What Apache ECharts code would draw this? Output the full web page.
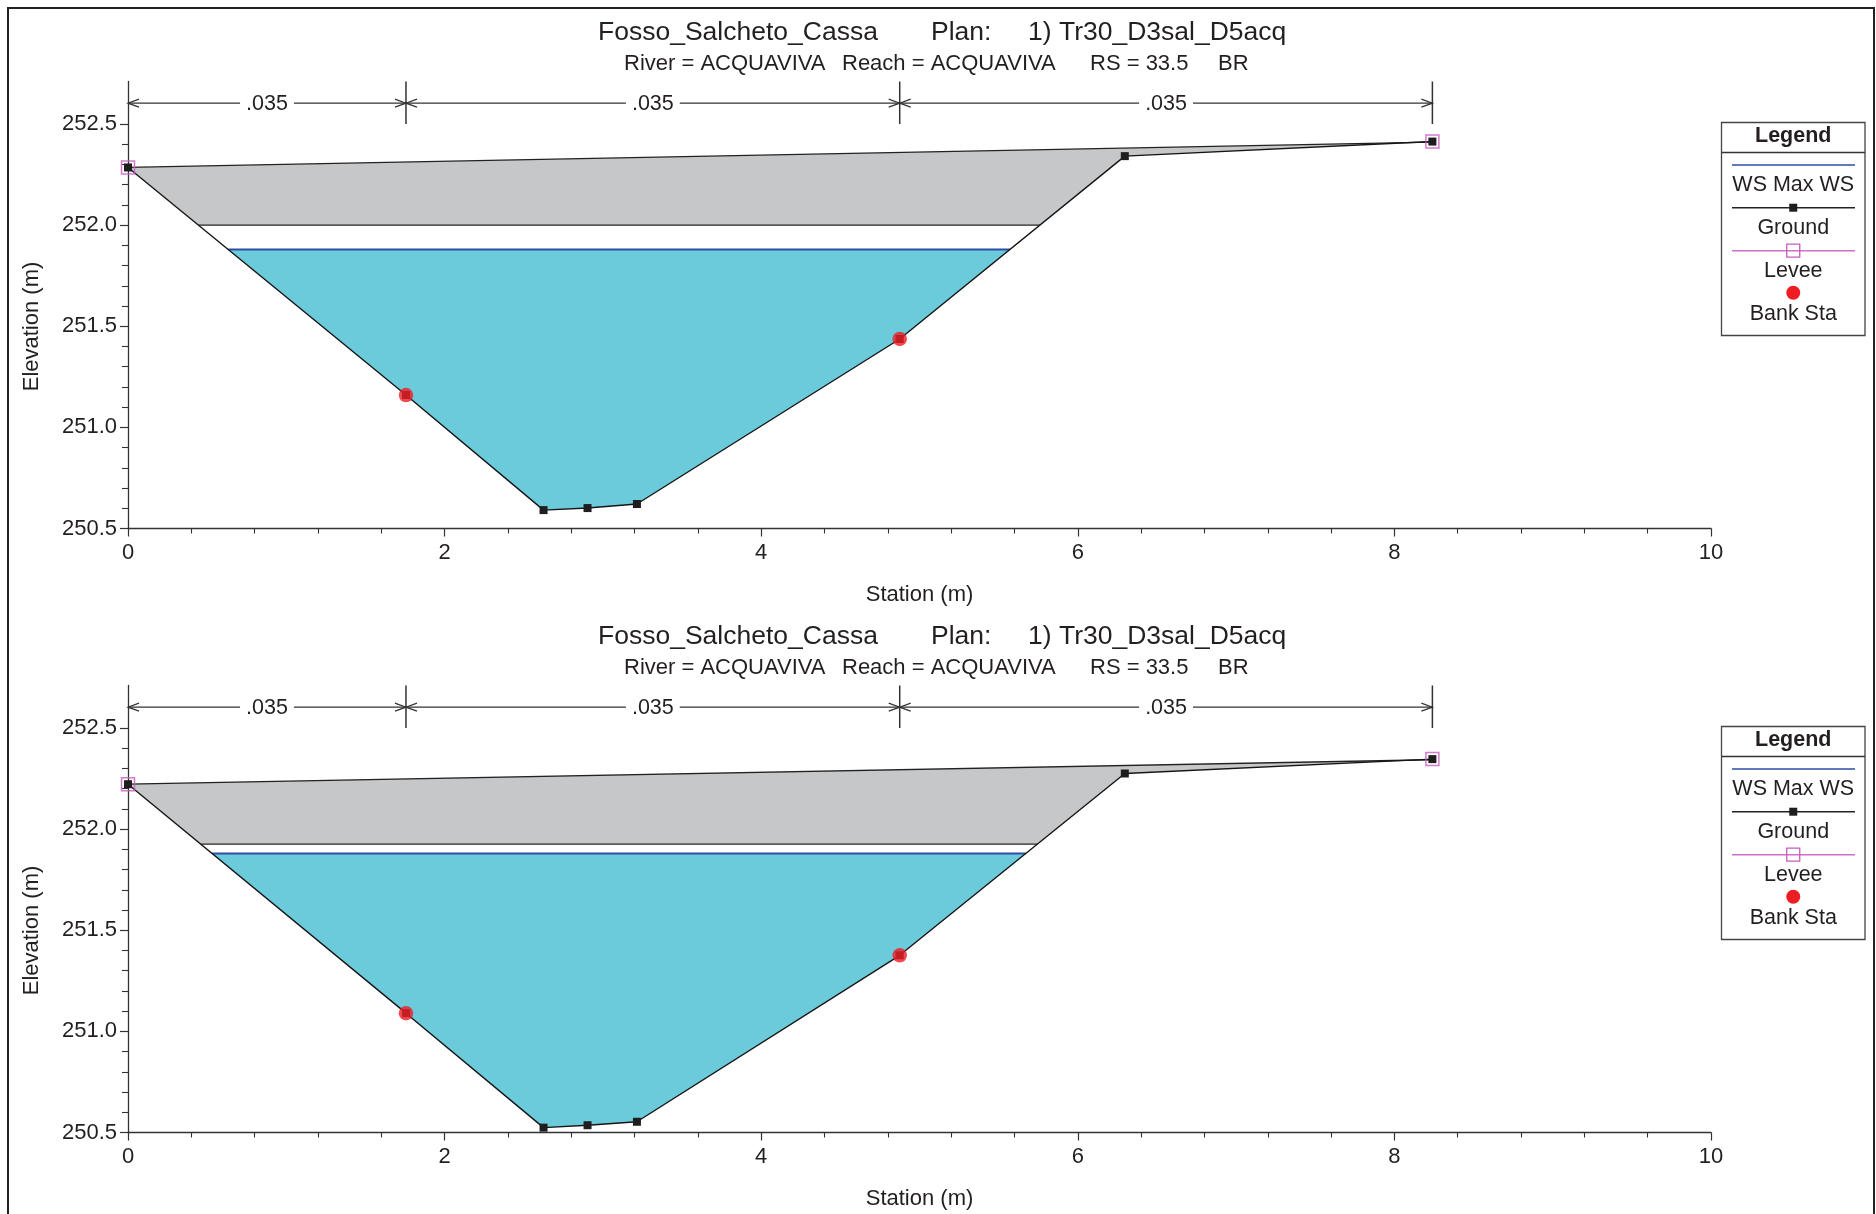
<!DOCTYPE html>
<html><head><meta charset="utf-8">
<script src="https://cdn.jsdelivr.net/npm/echarts@6/dist/echarts.min.js"></script>
<style>html,body{margin:0;padding:0;background:#fff}#c{width:1876px;height:1214px}</style>
</head><body><div id="c"></div>
<script>
// ---------- text ----------
const titleParts = ['Fosso_Salcheto_Cassa', 'Plan:', '1) Tr30_D3sal_D5acq'];
const subtitleParts = ['River = ACQUAVIVA', 'Reach = ACQUAVIVA', 'RS = 33.5', 'BR'];
const legendNames = ['WS Max WS', 'Ground', 'Levee', 'Bank Sta'];
const xName = 'Station (m)';
const yName = 'Elevation (m)';

// ---------- axes ----------
const xTickValues = [0, 2, 4, 6, 8, 10];
const yTickValues = [250.5, 251.0, 251.5, 252.0, 252.5];
const yMinorValues = [250.6, 250.7, 250.8, 250.9, 251.1, 251.2, 251.3, 251.4, 251.6, 251.7, 251.8, 251.9, 252.1, 252.2, 252.3, 252.4];
const yAxisMax = 252.71;

// ---------- Manning's n ----------
const nStations = [0, 1.756, 4.875, 8.24];
const nValues = ['.035', '.035', '.035'];
const nLineEl = 252.603;

// ---------- upper section ----------
const groundStaUp = [0, 1.756, 2.625, 2.903, 3.215, 4.875, 6.297, 8.24];
const groundElUp  = [252.285, 251.16, 250.591, 250.601, 250.621, 251.437, 252.341, 252.413];
const bankStaUp = [1.756, 4.875];
const bankElUp  = [251.16, 251.437];
const leveeStaUp = [0, 8.24];
const leveeElUp  = [252.285, 252.413];
const deckStaUp  = [0, 8.24];
const deckHighUp = [252.285, 252.41];
const lowChordUp = 252.0;
const wsUp = 251.879;

// ---------- lower section ----------
const groundStaDn = [0, 1.756, 2.625, 2.903, 3.215, 4.875, 6.297, 8.24];
const groundElDn  = [252.222, 251.09, 250.524, 250.536, 250.553, 251.376, 252.275, 252.346];
const bankStaDn = [1.756, 4.875];
const bankElDn  = [251.09, 251.376];
const leveeStaDn = [0, 8.24];
const leveeElDn  = [252.222, 252.346];
const deckStaDn  = [0, 8.24];
const deckHighDn = [252.222, 252.343];
const lowChordDn = 251.926;
const wsDn = 251.879;

// ---------- build ----------
const FONT = '"Liberation Sans", Arial, Helvetica, sans-serif';
const TXT = '#231f20';
const AX = '#333333';
const sections = [
  {sta: groundStaUp, el: groundElUp, bankSta: bankStaUp, bankEl: bankElUp, leveeSta: leveeStaUp, leveeEl: leveeElUp,
   deckSta: deckStaUp, deckHigh: deckHighUp, lowChord: lowChordUp, ws: wsUp},
  {sta: groundStaDn, el: groundElDn, bankSta: bankStaDn, bankEl: bankElDn, leveeSta: leveeStaDn, leveeEl: leveeElDn,
   deckSta: deckStaDn, deckHigh: deckHighDn, lowChord: lowChordDn, ws: wsDn}
];
const zip = (a, b) => a.map((v, i) => [v, b[i]]);

function crossings(sta, el, level) {
  const xs = [];
  for (let i = 1; i < sta.length; i++) {
    const a = el[i - 1] - level, b = el[i] - level;
    if ((a > 0 && b <= 0) || (a <= 0 && b > 0)) {
      const t = a / (a - b);
      xs.push(sta[i - 1] + t * (sta[i] - sta[i - 1]));
    }
  }
  return xs;
}
function wetPoly(s) {
  const xs = crossings(s.sta, s.el, s.ws);
  const x0 = xs[0], x1 = xs[xs.length - 1];
  const pts = [[x0, s.ws]];
  for (let i = 0; i < s.sta.length; i++) if (s.sta[i] > x0 && s.sta[i] < x1) pts.push([s.sta[i], s.el[i]]);
  pts.push([x1, s.ws]);
  return pts;
}
function deckPoly(s) {
  const top = zip(s.deckSta, s.deckHigh);
  const bottom = [];
  for (let i = 0; i < s.sta.length; i++) {
    if (i > 0) {
      const a = s.el[i - 1] - s.lowChord, b = s.el[i] - s.lowChord;
      if (a * b < 0) {
        const t = a / (a - b);
        bottom.push([s.sta[i - 1] + t * (s.sta[i] - s.sta[i - 1]), s.lowChord]);
      }
    }
    bottom.push([s.sta[i], Math.max(s.el[i], s.lowChord)]);
  }
  return top.concat(bottom.reverse());
}
function polySeries(points, g, fill, z) {
  return {
    type: 'custom', xAxisIndex: g, yAxisIndex: g * 2, z: z, silent: true, animation: false,
    data: points,
    renderItem: (params, api) => {
      if (params.dataIndex !== 0) return { type: 'group', children: [] };
      return { type: 'polygon', shape: { points: points.map(p => api.coord(p)) }, style: { fill: fill } };
    }
  };
}
function lineSeries(data, g, color, width, z) {
  return { type: 'line', xAxisIndex: g, yAxisIndex: g * 2, data: data, symbol: 'none', z: z, silent: true,
    lineStyle: { color: color, width: width }, animation: false };
}
function manningSeries(g) {
  const segs = nStations.slice(0, -1).map((s, i) => [s, nStations[i + 1], nLineEl]);
  return {
    type: 'custom', xAxisIndex: g, yAxisIndex: g * 2, z: 4, silent: true, animation: false,
    data: segs, encode: { x: [0, 1], y: 2 },
    renderItem: (params, api) => {
      const pa = api.coord([api.value(0), api.value(2)]);
      const pb = api.coord([api.value(1), api.value(2)]);
      const top = api.coord([api.value(1), yAxisMax])[1];
      const bot = api.coord([api.value(1), yTickValues[yTickValues.length - 1]])[1];
      const ls = { stroke: AX, lineWidth: 1.2, fill: null };
      return { type: 'group', children: [
        { type: 'line', shape: { x1: pa[0], y1: pa[1], x2: pb[0], y2: pb[1] }, style: ls },
        { type: 'polyline', shape: { points: [[pa[0] + 11, pa[1] - 4], [pa[0], pa[1]], [pa[0] + 11, pa[1] + 4]] }, style: ls },
        { type: 'polyline', shape: { points: [[pb[0] - 11, pb[1] - 4], [pb[0], pb[1]], [pb[0] - 11, pb[1] + 4]] }, style: ls },
        { type: 'line', shape: { x1: pb[0], y1: top, x2: pb[0], y2: bot }, style: { stroke: AX, lineWidth: 1.5 } },
        { type: 'text', x: (pa[0] + pb[0]) / 2, y: pa[1] + 1, z2: 10,
          style: { text: nValues[params.dataIndex], font: '21.5px ' + FONT, fill: TXT, align: 'center', verticalAlign: 'middle',
                   backgroundColor: '#fff', padding: [0, 6] } }
      ]};
    }
  };
}

const GRID_TOP = [81.5, 685.5];
const grids = [], xAxes = [], yAxes = [], series = [], graphics = [];

sections.forEach((s, g) => {
  grids.push({ left: 128, top: GRID_TOP[g], width: 1583, height: 447, outerBoundsMode: 'none', containLabel: false });
  xAxes.push({
    type: 'value', gridIndex: g, min: 0, max: 10, interval: 2,
    axisLine: { show: true, onZero: false, lineStyle: { color: AX, width: 1.3 } },
    axisTick: { show: true, length: 8, lineStyle: { color: AX, width: 1.2 } },
    minorTick: { show: true, splitNumber: 5, length: 5, lineStyle: { color: AX, width: 1.1 } },
    splitLine: { show: false }, minorSplitLine: { show: false },
    axisLabel: { fontSize: 22, fontFamily: FONT, color: TXT, margin: 13.5 },
    name: xName, nameLocation: 'middle', nameGap: 55,
    nameTextStyle: { fontSize: 22, fontFamily: FONT, color: TXT }
  });
  yAxes.push({
    type: 'value', gridIndex: g, min: 250.5, max: yAxisMax, interval: 0.5,
    axisLine: { show: true, onZero: false, lineStyle: { color: AX, width: 1.3 } },
    axisTick: { show: true, length: 8, customValues: yTickValues, lineStyle: { color: AX, width: 1.2 } },
    splitLine: { show: false },
    axisLabel: { fontSize: 22, fontFamily: FONT, color: TXT, margin: 11, customValues: yTickValues,
                 formatter: v => Number(v).toFixed(1) }
  });
  yAxes.push({
    type: 'value', gridIndex: g, min: 250.5, max: yAxisMax, interval: 0.5, position: 'left', offset: 0,
    axisLine: { show: false }, axisLabel: { show: false }, splitLine: { show: false },
    axisTick: { show: true, length: 6, customValues: yMinorValues, lineStyle: { color: AX, width: 1.1 } }
  });

  const wet = wetPoly(s);
  const lcX = crossings(s.sta, s.el, s.lowChord);
  series.push(polySeries(deckPoly(s), g, '#c6c7c9', 1));
  series.push(polySeries(wet, g, '#6ccbdb', 2));
  series.push(lineSeries([[lcX[0], s.lowChord], [lcX[lcX.length - 1], s.lowChord]], g, '#5a5a5a', 1.8, 3));
  series.push(lineSeries([wet[0], wet[wet.length - 1]], g, '#2c4ea8', 2, 3));
  series.push(lineSeries(zip(s.deckSta, s.deckHigh), g, '#222222', 1.3, 4));
  series.push(manningSeries(g));
  series.push({
    type: 'line', name: legendNames[1], xAxisIndex: g, yAxisIndex: g * 2, data: zip(s.sta, s.el), z: 5,
    symbol: 'rect', symbolSize: 8, showSymbol: true, showAllSymbol: true, silent: true, animation: false,
    itemStyle: { color: '#1e1e1e' }, lineStyle: { color: '#151515', width: 1.4 }
  });
  series.push({
    type: 'scatter', name: legendNames[2], xAxisIndex: g, yAxisIndex: g * 2, data: zip(s.leveeSta, s.leveeEl), z: 6,
    symbol: 'rect', symbolSize: 13, silent: true, animation: false,
    itemStyle: { color: 'rgba(0,0,0,0)', borderColor: '#c65bbd', borderWidth: 1.5 }
  });
  series.push({
    type: 'scatter', name: legendNames[3], xAxisIndex: g, yAxisIndex: g * 2, data: zip(s.bankSta, s.bankEl), z: 7,
    symbol: 'circle', symbolSize: 14.5, silent: true, animation: false,
    itemStyle: { color: '#ee1d24' }
  });

  const oy = GRID_TOP[g] - 80;
  // y axis name
  graphics.push({ type: 'text', x: 32, y: 325 + oy, rotation: Math.PI / 2,
    style: { text: yName, font: '22px ' + FONT, fill: TXT, align: 'center', verticalAlign: 'middle' } });
  // titles
  const tX = [598, 931, 1028], sX = [624, 842, 1090, 1218];
  titleParts.forEach((t, i) => graphics.push({ type: 'text', x: tX[i], y: 31.5 + oy,
    style: { text: t, font: '26.5px ' + FONT, fill: TXT, align: 'left', verticalAlign: 'middle' } }));
  subtitleParts.forEach((t, i) => graphics.push({ type: 'text', x: sX[i], y: 62 + oy,
    style: { text: t, font: '22px ' + FONT, fill: TXT, align: 'left', verticalAlign: 'middle' } }));

  // legend box
  const lx = 1721.5, lw = 143.5, cx = lx + lw / 2, ly = 122.5 + (GRID_TOP[g] - 81.5);
  graphics.push({ type: 'rect', shape: { x: lx, y: ly, width: lw, height: 213 }, style: { fill: '#fff', stroke: '#444', lineWidth: 1.3 } });
  graphics.push({ type: 'text', x: cx, y: ly + 14, style: { text: 'Legend', font: 'bold 21.5px ' + FONT, fill: TXT, align: 'center', verticalAlign: 'middle' } });
  graphics.push({ type: 'line', shape: { x1: lx, y1: ly + 30, x2: lx + lw, y2: ly + 30 }, style: { stroke: '#333', lineWidth: 1.3 } });
  const itemY = [42.5, 85.2, 128.2, 170.2];
  const labelY = [62.5, 105.5, 149, 191.5];
  graphics.push({ type: 'line', shape: { x1: lx + 10.5, y1: ly + itemY[0], x2: lx + lw - 10, y2: ly + itemY[0] }, style: { stroke: '#2c4ea8', lineWidth: 1.5 } });
  graphics.push({ type: 'line', shape: { x1: lx + 10.5, y1: ly + itemY[1], x2: lx + lw - 10, y2: ly + itemY[1] }, style: { stroke: '#222', lineWidth: 1.5 } });
  graphics.push({ type: 'rect', shape: { x: cx - 4, y: ly + itemY[1] - 4, width: 8, height: 8 }, style: { fill: '#1e1e1e' } });
  graphics.push({ type: 'line', shape: { x1: lx + 10.5, y1: ly + itemY[2], x2: lx + lw - 10, y2: ly + itemY[2] }, style: { stroke: '#d070c8', lineWidth: 1.5 } });
  graphics.push({ type: 'rect', shape: { x: cx - 6.5, y: ly + itemY[2] - 6.5, width: 13, height: 13 }, style: { fill: 'none', stroke: '#c65bbd', lineWidth: 1.3 } });
  graphics.push({ type: 'circle', shape: { cx: cx, cy: ly + itemY[3], r: 7 }, style: { fill: '#ee1d24' } });
  legendNames.forEach((t, i) => graphics.push({ type: 'text', x: cx, y: ly + labelY[i],
    style: { text: t, font: '21.5px ' + FONT, fill: TXT, align: 'center', verticalAlign: 'middle' } }));
});

graphics.push({ type: 'rect', z: 100, shape: { x: 8, y: 8, width: 1866, height: 1240 }, style: { fill: 'none', stroke: '#222', lineWidth: 2 } });

const chart = echarts.init(document.getElementById('c'), null, { renderer: 'canvas' });
chart.setOption({
  backgroundColor: '#ffffff',
  animation: false,
  grid: grids, xAxis: xAxes, yAxis: yAxes, series: series, graphic: graphics
});
</script></body></html>
